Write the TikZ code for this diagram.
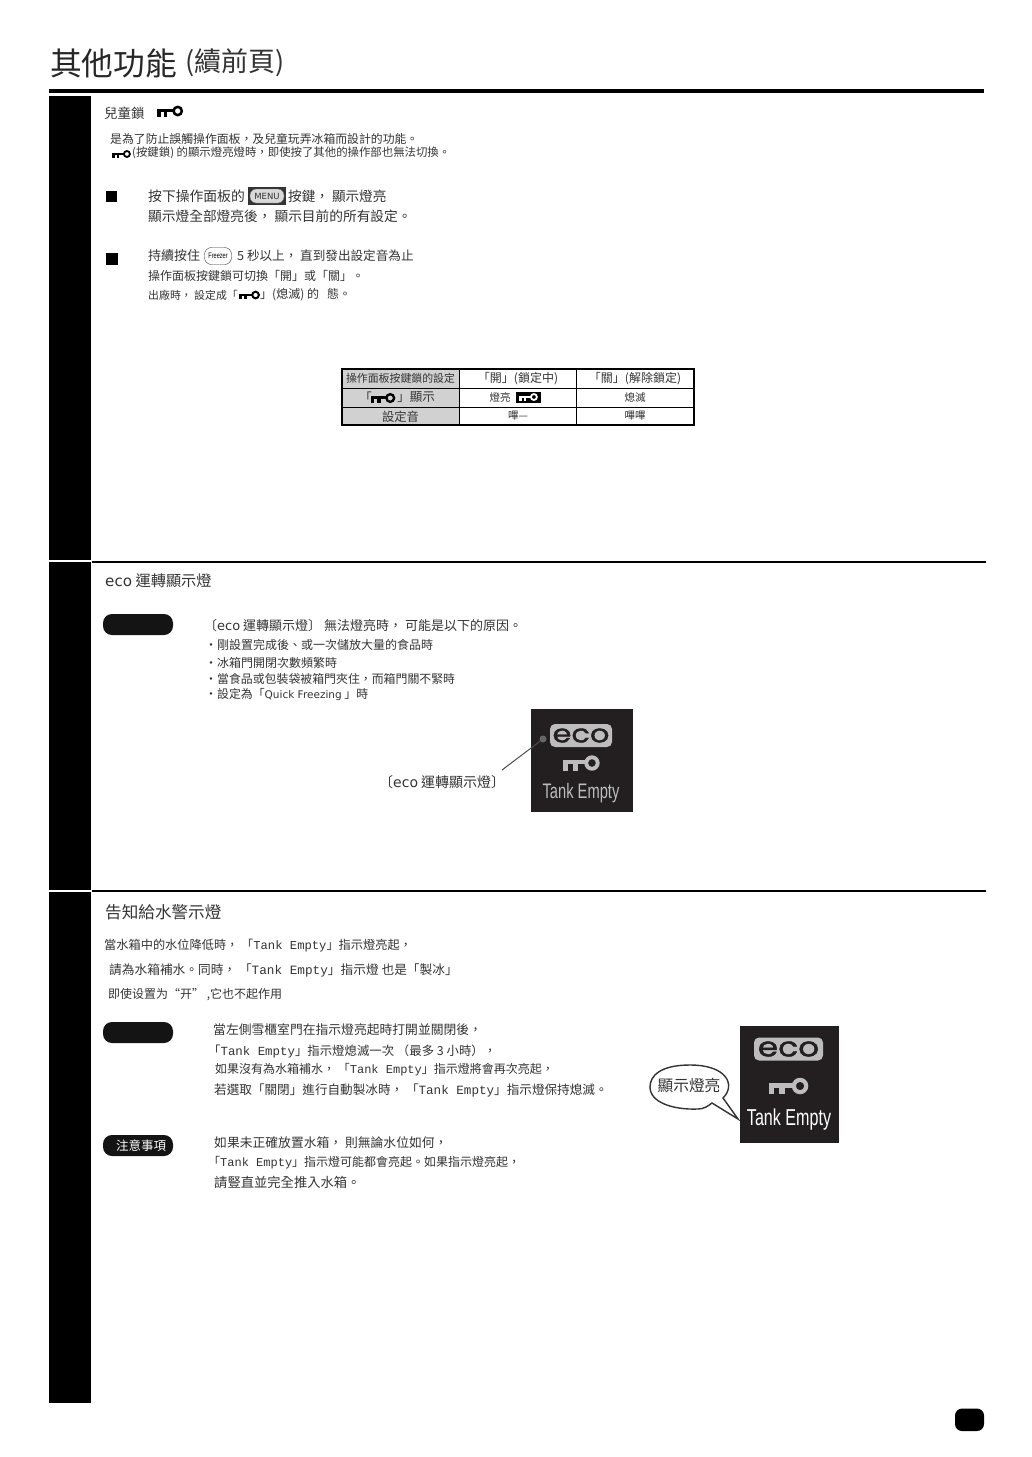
\documentclass[tikz,border=0pt]{standalone}
\usepackage{fontspec}
\setmainfont{Noto Sans CJK TC}
\newfontfamily\tankfont{Liberation Mono}
\newfontfamily\ecofont{DejaVu Sans}
\newfontfamily\panelfont[FakeStretch=0.70]{Liberation Sans}
\newfontfamily\logofont[FakeStretch=1.22,FakeBold=1.5]{Poppins}
\definecolor{inkgray}{HTML}{333333}
\definecolor{panelblack}{HTML}{231F20}
\definecolor{logogray}{HTML}{BDBDBD}
\tikzset{
  txt/.style    = {anchor=west, inner sep=0pt, text=inkgray, font=\fontsize{#1}{14}\selectfont},
  txt/.default  = 12.5,
  cell/.style   = {inner sep=0pt, text=inkgray, font=\fontsize{#1}{14}\selectfont},
  cell/.default = 10.5,
  bar/.style    = {fill=black, draw=none},
  pill/.style   = {fill=black!92, draw=none, rounded corners=9pt},
  logobox/.style = {fill=logogray, rounded corners=5pt, minimum height=23pt, inner sep=0pt, text=panelblack},
  keyicon/.pic  = {
    \fill[pic actions] (0,-1.8) rectangle (16,1);
    \fill[pic actions] (0,0) rectangle (3.6,5.5);
    \fill[pic actions] (6.8,0) rectangle (10.4,5.5);
    \fill[pic actions, even odd rule] (20.7,0) circle (5.5) circle (2.8);
  }
}
\begin{document}
\begin{tikzpicture}[x=1pt, y=-1pt]
  \useasboundingbox (0,0) rectangle (1032,1457);
  % title
  \node[txt=31.7, text=black!85] (title) at (50,63) {其他功能};
  \node[txt=27] (titlemore) at (185,63) {(續前頁)};
  \fill[black] (49,89) rectangle (984,92.5);
  % side bars
  \fill[bar] (49,96) rectangle (91,560);
  \fill[bar] (49,562) rectangle (91,889.5);
  \fill[bar] (49,891.7) rectangle (91,1403);
  \draw[line width=2pt] (92,561.5) -- (986,561.5);
  \draw[line width=2pt] (92,891) -- (986,891);

  % child lock
  \node[txt=13.5] (lockhead) at (104,113) {兒童鎖};
  \pic[black] at (157,111) {keyicon};
  \node[txt=11.85] (lockone) at (110,139) {是為了防止誤觸操作面板，及兒童玩弄冰箱而設計的功能。};
  \pic[black, scale=.72] at (112,154) {keyicon};
  \node[txt=11.4] (locktwo) at (132,153) {(按鍵鎖) 的顯示燈亮燈時，即使按了其他的操作部也無法切換。};
  \fill[black] (106,191) rectangle (117,202);
  \node[txt=13.8] (stepa) at (148,196) {按下操作面板的};
  \node[fill=black!80, minimum width=38pt, minimum height=18pt, inner sep=0pt] (menuback) at (267,196) {};
  \node[fill=black!15, draw=black!60, rounded corners=6pt, minimum width=34pt, minimum height=14pt, inner sep=0pt,
        text=inkgray, font=\fontsize{8.5}{9}\ecofont] (menu) at (267,196) {MENU};
  \node[txt=13.6] (stepb) at (288,196) {按鍵， 顯示燈亮};
  \node[txt=13.7] (stepc) at (148,216) {顯示燈全部燈亮後， 顯示目前的所有設定。};
  \fill[black] (106,253) rectangle (118,265);
  \node[txt=13] (hold) at (148,256) {持續按住};
  \node[draw=black!80, rounded corners=7pt, minimum width=27pt, minimum height=17pt, inner sep=0pt,
        font=\fontsize{8}{9}\panelfont] (freezer) at (218,256) {Freezer};
  \node[txt=12.6] (holdb) at (237,256) {5 秒以上， 直到發出設定音為止};
  \node[txt=12] (holdc) at (148,276) {操作面板按鍵鎖可切換「開」或「關」。};
  \node[txt=10.9] (factory) at (148,295) {出廠時， 設定成「};
  \pic[black, scale=.8] at (239,295) {keyicon};
  \node[txt=12] (factoryb) at (260,295) {」(熄滅) 的 \ \ 態。};

  % table
  \fill[black!18] (342,369) rectangle (459.5,425);
  \draw[line width=1.5pt] (342,369) rectangle (694,425);
  \draw[line width=.9pt] (342,388) -- (694,388);
  \draw[line width=.9pt] (342,407) -- (694,407);
  \draw[line width=.9pt] (459.5,369) -- (459.5,425);
  \draw[line width=.9pt] (576,369) -- (576,425);
  \node[cell=10.9] (cella) at (400.5,378.5) {操作面板按鍵鎖的設定};
  \node[cell=12] (cellb) at (518,378.5) {「開」(鎖定中)};
  \node[cell=12] (cellc) at (635,378.5) {「關」(解除鎖定)};
  \node[cell=12.5] (celld) at (365.5,397.5) {「};
  \pic[black, scale=.93] at (371,398) {keyicon};
  \node[cell=12.5] (celle) at (416,397.5) {」顯示};
  \node[cell] (cellf) at (500,397.5) {燈亮};
  \fill[black] (516,392) rectangle (541,403);
  \pic[white, scale=.72] at (519,397) {keyicon};
  \node[cell] (cellg) at (635,397.5) {熄滅};
  \node[cell=12.3] (cellh) at (400.5,416.5) {設定音};
  \node[cell] (celli) at (518,416) {嗶—};
  \node[cell] (cellj) at (635,416) {嗶嗶};

  % eco lamp
  \node[txt=15.2] (ecohead) at (105,581) {{\ecofont eco} 運轉顯示燈};
  \fill[pill] (103,614) rectangle (173,635);
  \node[txt=13] (ecoa) at (204,626) {〔{\ecofont eco} 運轉顯示燈〕 無法燈亮時， 可能是以下的原因。};
  \node[txt=12] (ecob) at (205,645) {・剛設置完成後、或一次儲放大量的食品時};
  \node[txt=12] (ecoc) at (205,663) {・冰箱門開閉次數頻繁時};
  \node[txt=11.9] (ecod) at (205,679) {・當食品或包裝袋被箱門夾住，而箱門關不緊時};
  \node[txt=11.9] (ecoe) at (205,695) {・設定為「{\ecofont\fontsize{10.5}{12}\selectfont Quick Freezing} 」時};

  % eco panel
  \fill[panelblack] (531,709) rectangle (633,812);
  \node[logobox, minimum width=62pt, font=\fontsize{25}{25}\logofont] (ecologo) at (581,735.5) {\raisebox{-.3ex}{eco}};
  \pic[logogray, scale=1.4] at (563,763) {keyicon};
  \node[text=logogray, inner sep=0pt, font=\fontsize{21}{24}\panelfont] (tanka) at (581,793) {Tank Empty};
  \node[txt=14] (ecolabel) at (379,782) {〔{\ecofont eco} 運轉顯示燈〕};
  \coordinate (ecostart) at (502,770);
  \node[circle, fill=black!60, minimum size=7pt, inner sep=0pt] (ecodot) at (543,739) {};
  \draw[black!70, line width=1pt] (ecostart) -- (ecodot);

  % tank empty
  \node[txt=16.6] (tankhead) at (105,912) {告知給水警示燈};
  \node[txt=12.2] (tanka1) at (104,946) {當水箱中的水位降低時， 「{\tankfont Tank Empty}」指示燈亮起，};
  \node[txt=12.7] (tanka2) at (109,970) {請為水箱補水。同時， 「{\tankfont Tank Empty}」指示燈 也是「製冰」};
  \node[txt=12] (tanka3) at (108,995) {即使设置为“开” ,它也不起作用};
  \fill[pill] (103,1022) rectangle (173,1043);
  \node[txt=12.8] (noteone) at (213,1030) {當左側雪櫃室門在指示燈亮起時打開並關閉後，};
  \node[txt=12.4] (notetwo) at (208,1051) {「{\tankfont Tank Empty}」指示燈熄滅一次 （最多 3 小時），};
  \node[txt=12] (notethree) at (215,1070) {如果沒有為水箱補水， 「{\tankfont Tank Empty}」指示燈將會再次亮起，};
  \node[txt=12.6] (notefour) at (214,1090) {若選取「關閉」進行自動製冰時， 「{\tankfont Tank Empty}」指示燈保持熄滅。};
  \fill[pill] (103,1135) rectangle (173,1156);
  \node[txt=12.5, text=white] (warnlabel) at (116,1146) {注意事項};
  \node[txt=12.8] (warnone) at (214,1143) {如果未正確放置水箱， 則無論水位如何，};
  \node[txt=12] (warntwo) at (208,1163) {「{\tankfont Tank Empty}」指示燈可能都會亮起。如果指示燈亮起，};
  \node[txt=13.3] (warnthree) at (214,1182) {請豎直並完全推入水箱。};

  % tank panel
  \fill[panelblack] (740,1026) rectangle (839,1143);
  \node[logobox, minimum width=69pt, font=\fontsize{27}{27}\logofont] (tanklogo) at (788.5,1049) {\raisebox{-.3ex}{eco}};
  \pic[logogray, scale=1.5] at (769,1086) {keyicon};
  \node[text=white, inner sep=0pt, font=\fontsize{23}{24}\panelfont] (tankb) at (789,1120) {Tank Empty};
  % speech bubble
  \draw[black!80, line width=1.4pt, fill=white]
    (723,1098) .. controls (736,1085) and (727,1065) .. (690,1065)
    .. controls (660,1065) and (650,1076) .. (650,1087)
    .. controls (650,1102) and (672,1110) .. (698,1109)
    .. controls (704,1109) and (708,1106) .. (712,1103)
    -- (738,1119) -- cycle;
  \node[cell=15.7] (bubbletext) at (689,1086) {顯示燈亮};

  % page number
  \fill[black, rounded corners=7pt] (955,1408.5) rectangle (984,1431);
\end{tikzpicture}
\end{document}
